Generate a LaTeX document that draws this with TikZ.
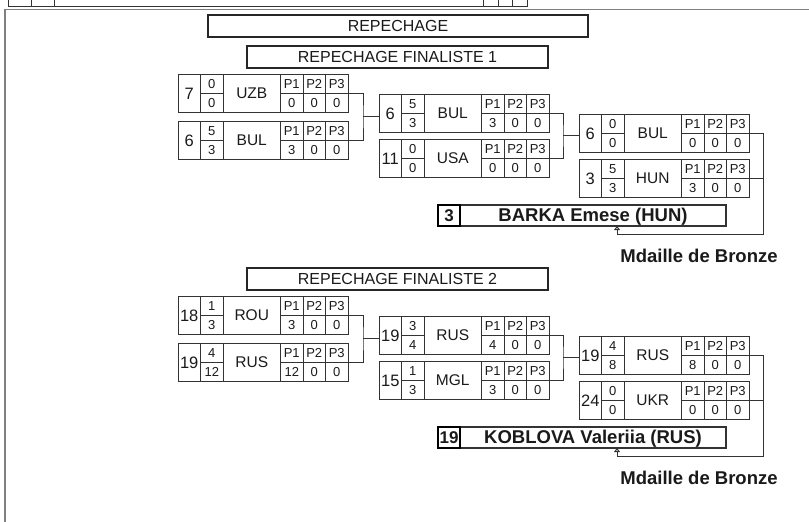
\documentclass[tikz,border=0pt]{standalone}
\usepackage{fontspec}
\setmainfont{Liberation Sans}
\usetikzlibrary{arrows.meta,calc}
\definecolor{ln}{HTML}{333333}
\definecolor{tx}{HTML}{1A1A1A}
\definecolor{fr}{HTML}{808080}
\newcommand{\wrmatch}[9]{%
  \begin{scope}[shift={(#2)}]
    \node[mbox] (#1) at (0,0) {};
    \draw[mline] (22.5,0) -- (22.5,38) (45,0) -- (45,38) (102.5,0) -- (102.5,38)
      (125,0) -- (125,38) (147.5,0) -- (147.5,38) (22.5,19) -- (45,19) (102.5,19) -- (170,19);
    \node[numtxt] (#1-num) at (11.25,19.5) {#3};
    \node[smalltxt] (#1-sa) at (33.75,10) {#4};
    \node[smalltxt] (#1-sb) at (33.75,29) {#5};
    \node[teamtxt] (#1-team) at (73.75,19.5) {#6};
    \node[smalltxt] (#1-h1) at (113.75,10) {P1};
    \node[smalltxt] (#1-h2) at (136.25,10) {P2};
    \node[smalltxt] (#1-h3) at (158.75,10) {P3};
    \node[smalltxt] (#1-p1) at (113.75,29) {#7};
    \node[smalltxt] (#1-p2) at (136.25,29) {#8};
    \node[smalltxt] (#1-p3) at (158.75,29) {#9};
  \end{scope}}
\begin{document}
\begin{tikzpicture}[x=1pt,y=-1pt,
  mbox/.style={draw=ln, line width=1pt, rectangle, inner sep=0, outer sep=0, minimum width=170pt, minimum height=38pt, anchor=north west},
  mline/.style={draw=ln, line width=1pt},
  numtxt/.style={inner sep=0, text=tx, font=\fontsize{16.5}{16.5}\selectfont},
  smalltxt/.style={inner sep=0, text=tx, font=\fontsize{13}{13}\selectfont},
  teamtxt/.style={inner sep=0, text=tx, font=\fontsize{15.5}{15.5}\selectfont},
  conn/.style={draw=ln, line width=1pt},
  titlebox/.style={draw=black!85, line width=2pt, inner sep=0, outer sep=0, text=tx, font=\fontsize{16}{16}\selectfont, minimum height=22pt},
  namecell/.style={draw=ln, line width=1.2pt, inner sep=0, outer sep=0, minimum width=266pt, minimum height=21pt, anchor=north west},
  numcell/.style={draw=black, line width=2pt, inner sep=0, outer sep=0, minimum width=22pt, minimum height=21pt, anchor=north west},
  nametxt/.style={inner sep=0, text=tx, font=\bfseries\fontsize{18.5}{18.5}\selectfont, anchor=base},
  nonumtxt/.style={inner sep=0, text=tx, font=\bfseries\fontsize{17}{17}\selectfont, anchor=base},
  arr/.style={conn, -{Triangle[open, length=4pt, width=6pt]}}]
\useasboundingbox (0,0) rectangle (809,522);
\fill[white] (0,0) rectangle (809,522);
% cut-off row at top and frame
\draw[ln, line width=1pt] (8,6.5) -- (527,6.5)
  (8,0) -- (8,6.5) (31,0) -- (31,6.5) (54,0) -- (54,6.5)
  (483,0) -- (483,6.5) (498,0) -- (498,6.5) (512,0) -- (512,6.5) (527,0) -- (527,6.5);
\draw[fr, line width=1.5pt] (5,522) -- (5,9.5) -- (809,9.5);
% titles
\node[titlebox, minimum width=380pt] (T0) at (398,26) {REPECHAGE};
\node[titlebox, minimum width=301pt] (T1) at (397.5,57) {REPECHAGE FINALISTE 1};
\node[titlebox, minimum width=301pt] (T2) at (397.5,279) {REPECHAGE FINALISTE 2};
% bracket 1
\wrmatch{A1}{178,74}{7}{0}{0}{UZB}{0}{0}{0}
\wrmatch{A2}{178,121}{6}{5}{3}{BUL}{3}{0}{0}
\wrmatch{B1}{379,94}{6}{5}{3}{BUL}{3}{0}{0}
\wrmatch{B2}{379,139}{11}{0}{0}{USA}{0}{0}{0}
\wrmatch{C1}{579,114}{6}{0}{0}{BUL}{0}{0}{0}
\wrmatch{C2}{579,159}{3}{5}{3}{HUN}{3}{0}{0}
\node[namecell] (N1name) at (460,205) {};
\node[numcell] (N1num) at (438,205) {};
\node[nametxt] (N1txt) at (593,221.5) {BARKA Emese (HUN)};
\node[nonumtxt] (N1no) at (449,221.5) {3};
\node[nametxt] (M1) at (699,262) {Mdaille de Bronze};
\coordinate (jA) at ($(A1.east)!0.5!(A2.east)+(15,0)$);
\draw[conn] (A1.east) -| (jA) |- (A2.east);
\draw[conn] (jA) -- (jA -| B1.west);
\coordinate (jB) at ($(B1.east)!0.5!(B2.east)+(14,0)$);
\draw[conn] (B1.east) -| (jB) |- (B2.east);
\draw[conn] (jB) -- (jB -| C1.west);
\coordinate (rb1) at (763,234);
\coordinate (aN1) at ($(N1name.south west)+(157,0)$);
\draw[arr] (C1.east) -| (rb1) -| (aN1);
\draw[conn] (C2.east) -- (C2.east -| rb1);
% bracket 2
\wrmatch{D1}{178,296}{18}{1}{3}{ROU}{3}{0}{0}
\wrmatch{D2}{178,343}{19}{4}{12}{RUS}{12}{0}{0}
\wrmatch{E1}{379,316}{19}{3}{4}{RUS}{4}{0}{0}
\wrmatch{E2}{379,361}{15}{1}{3}{MGL}{3}{0}{0}
\wrmatch{F1}{579,336}{19}{4}{8}{RUS}{8}{0}{0}
\wrmatch{F2}{579,381}{24}{0}{0}{UKR}{0}{0}{0}
\node[namecell] (N2name) at (460,427) {};
\node[numcell] (N2num) at (438,427) {};
\node[nametxt] (N2txt) at (593,443.5) {KOBLOVA Valeriia (RUS)};
\node[nonumtxt] (N2no) at (449,443.5) {19};
\node[nametxt] (M2) at (699,484) {Mdaille de Bronze};
\coordinate (jD) at ($(D1.east)!0.5!(D2.east)+(15,0)$);
\draw[conn] (D1.east) -| (jD) |- (D2.east);
\draw[conn] (jD) -- (jD -| E1.west);
\coordinate (jE) at ($(E1.east)!0.5!(E2.east)+(14,0)$);
\draw[conn] (E1.east) -| (jE) |- (E2.east);
\draw[conn] (jE) -- (jE -| F1.west);
\coordinate (rb2) at (763,456);
\coordinate (aN2) at ($(N2name.south west)+(157,0)$);
\draw[arr] (F1.east) -| (rb2) -| (aN2);
\draw[conn] (F2.east) -- (F2.east -| rb2);
\end{tikzpicture}
\end{document}
